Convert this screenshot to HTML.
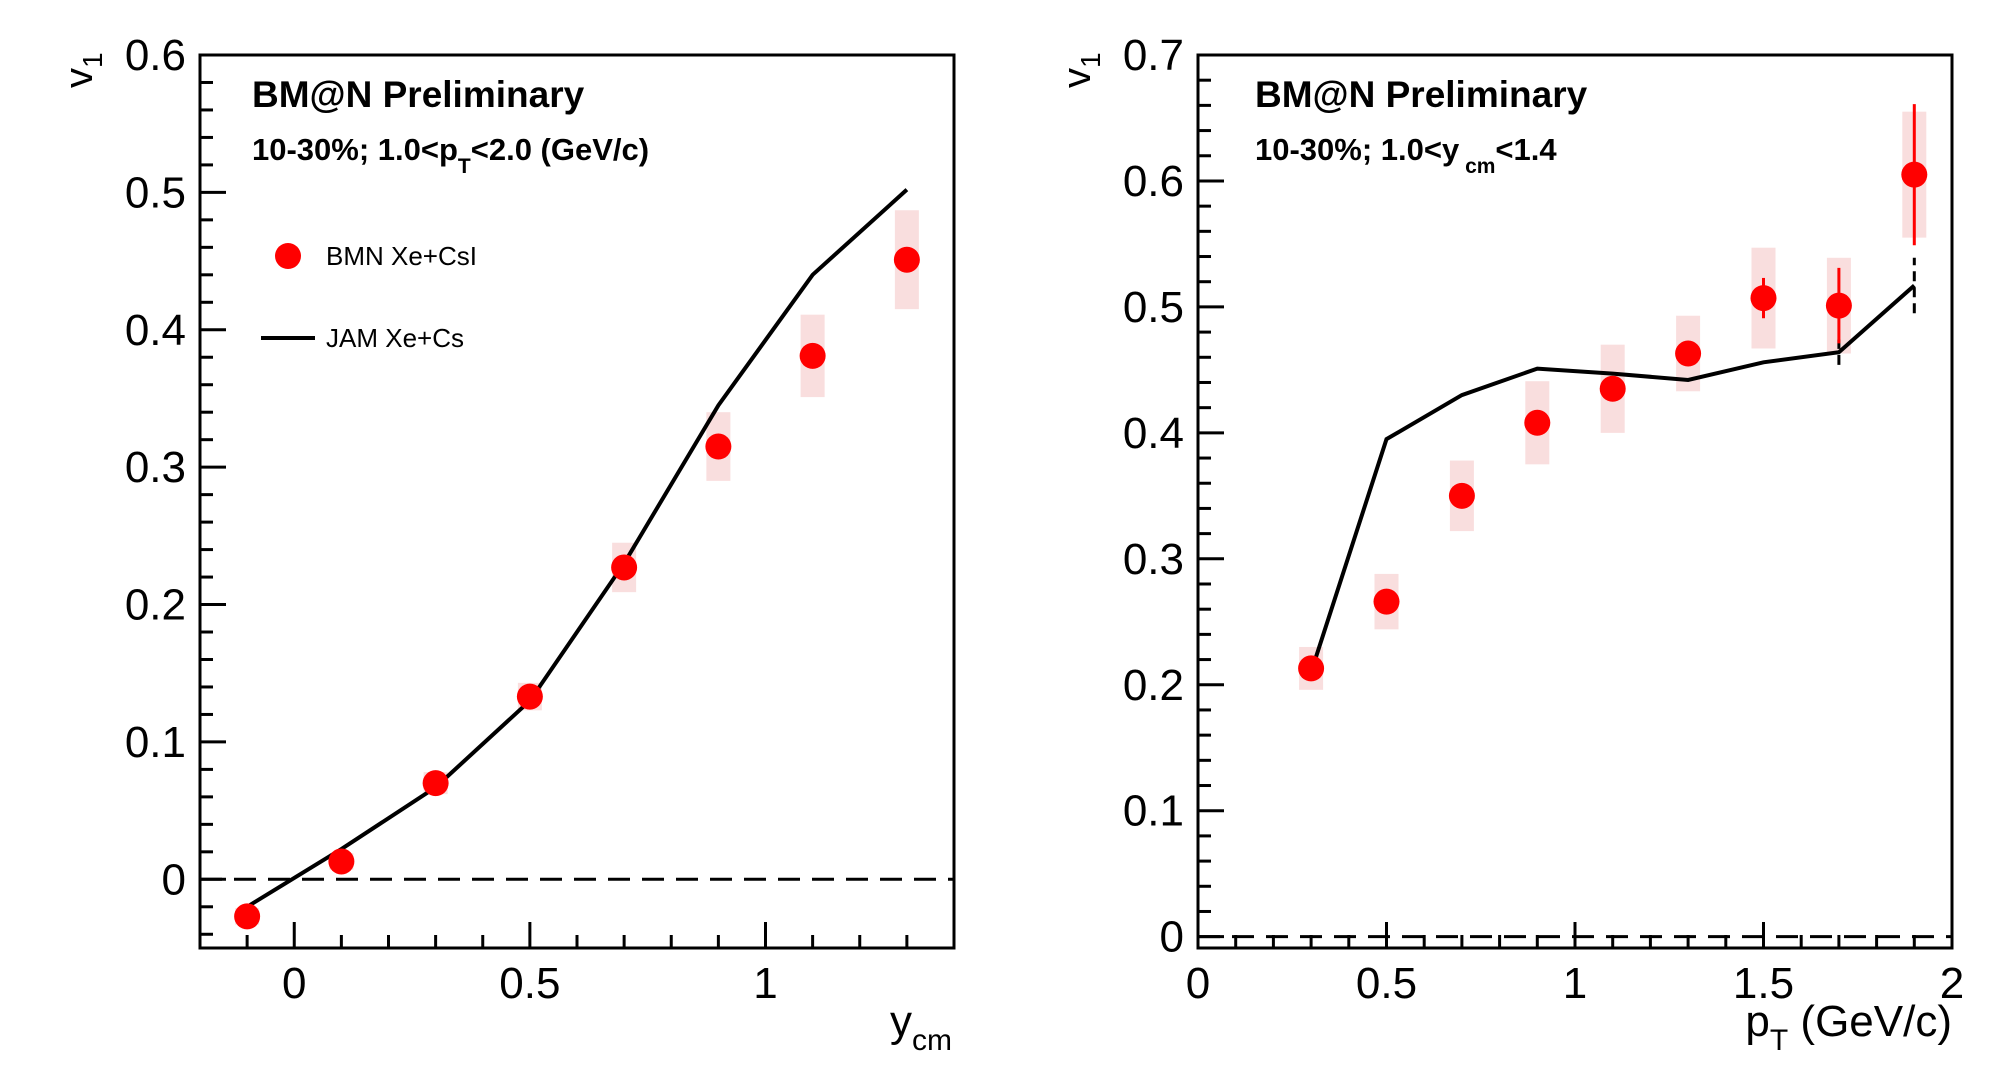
<!DOCTYPE html>
<html><head><meta charset="utf-8"><style>
html,body{margin:0;padding:0;background:#fff;}
svg{display:block;font-family:"Liberation Sans",Arial,sans-serif;}
</style></head><body>
<svg id="svg" width="1996" height="1072" viewBox="0 0 1996 1072" xmlns="http://www.w3.org/2000/svg">
<rect width="1996" height="1072" fill="#fff"/>
</svg>
<script>
// Left panel data
const leftX = [-0.1, 0.1, 0.3, 0.5, 0.7, 0.9, 1.1, 1.3];
const leftV1 = [-0.027, 0.013, 0.070, 0.133, 0.227, 0.315, 0.381, 0.451];
const leftSys = [0.006, 0.006, 0.008, 0.010, 0.018, 0.025, 0.030, 0.036];
const leftJamX = [-0.1, 0.1, 0.3, 0.5, 0.7, 0.9, 1.1, 1.3];
const leftJam = [-0.02, 0.022, 0.067, 0.130, 0.230, 0.345, 0.440, 0.502];
const leftYTicks = [0, 0.1, 0.2, 0.3, 0.4, 0.5, 0.6];
const leftXTicks = [0, 0.5, 1];
// Right panel data
const rightX = [0.3, 0.5, 0.7, 0.9, 1.1, 1.3, 1.5, 1.7, 1.9];
const rightV1 = [0.213, 0.266, 0.350, 0.408, 0.435, 0.463, 0.507, 0.501, 0.605];
const rightSys = [0.017, 0.022, 0.028, 0.033, 0.035, 0.030, 0.040, 0.038, 0.050];
const rightStat = [0.004, 0.005, 0.006, 0.006, 0.007, 0.008, 0.016, 0.030, 0.056];
const rightJamX = [0.3, 0.5, 0.7, 0.9, 1.1, 1.3, 1.5, 1.7, 1.9];
const rightJam = [0.210, 0.395, 0.430, 0.451, 0.447, 0.442, 0.456, 0.464, 0.517];
const rightJamErr = [0, 0, 0, 0, 0, 0, 0, 0.010, 0.022];
const rightYTicks = [0, 0.1, 0.2, 0.3, 0.4, 0.5, 0.6, 0.7];
const rightXTicks = [0, 0.5, 1, 1.5, 2];

const NS = "http://www.w3.org/2000/svg";
const svg = document.getElementById('svg');
function mk(tag, attrs, parent, text){
  const e = document.createElementNS(NS, tag);
  for (const k in attrs) e.setAttribute(k, attrs[k]);
  if (text !== undefined) e.textContent = text;
  (parent||svg).appendChild(e);
  return e;
}
function fmt(v){ return String(Math.round(v*10)/10); }

function panel(o){
  const g = mk('g', {});
  
  
  const L=o.L,R=o.R,T=o.T,B=o.B;
  const sx = v => L + (v-o.xmin)/(o.xmax-o.xmin)*(R-L);
  const sy = v => B - (v-o.ymin)/(o.ymax-o.ymin)*(B-T);
  const ytg = mk('g', {stroke:'#000','stroke-width':3}, g);
  
  
  for (let k=Math.ceil(o.ymin/0.02-1e-6); k*0.02<=o.ymax+1e-6; k++){
    const v=k*0.02, y=sy(v);
    const major = Math.abs(v*10-Math.round(v*10))<1e-6;
    mk('line',{x1:L,x2:L+(major?26:13),y1:y,y2:y},ytg);
  }
  const xtg = mk('g', {stroke:'#000','stroke-width':3}, g);
  
  
  for (let k=Math.ceil(o.xmin/0.1-1e-6); k*0.1<=o.xmax+1e-6; k++){
    const v=k*0.1, x=sx(v);
    const major = Math.abs(v*2-Math.round(v*2))<1e-6;
    mk('line',{x1:x,x2:x,y1:B,y2:B-(major?26:13)},xtg);
  }
  o.yTicks.forEach(v=>{
    const t = mk('text',{x:L-14,y:sy(v)+15,'font-size':44,'text-anchor':'end'},g,fmt(v));
    
    
  });
  o.xTicks.forEach(v=>{
    const t = mk('text',{x:sx(v),y:B+50,'font-size':44,'text-anchor':'middle'},g,fmt(v));
    
    
  });
  const z = mk('line',{x1:L,x2:R,y1:sy(0),y2:sy(0),stroke:'#000','stroke-width':3,'stroke-dasharray':'22,12'},g);
  
  
  o.x.forEach((xv,i)=>{
    const r = mk('rect',{x:sx(xv)-12,y:sy(o.v[i]+o.sys[i]),width:24,height:sy(o.v[i]-o.sys[i])-sy(o.v[i]+o.sys[i]),fill:'#f9dede'},g);
    
    
  });
  if (o.jamErr) o.jamX.forEach((xv,i)=>{
    if(!o.jamErr[i]) return;
    const l = mk('line',{x1:sx(xv),x2:sx(xv),y1:sy(o.jam[i]-o.jamErr[i]),y2:sy(o.jam[i]+o.jamErr[i]),stroke:'#000','stroke-width':3,'stroke-dasharray':'10,6'},g);
    
    
  });
  const pts = o.jamX.map((xv,i)=>sx(xv)+','+sy(o.jam[i])).join(' ');
  const pl = mk('polyline',{points:pts,fill:'none',stroke:'#000','stroke-width':4},g);
  
  
  o.x.forEach((xv,i)=>{
    if (o.stat){
      const l = mk('line',{x1:sx(xv),x2:sx(xv),y1:sy(o.v[i]-o.stat[i]),y2:sy(o.v[i]+o.stat[i]),stroke:'#f00','stroke-width':3},g);
      
      
    }
    const c = mk('circle',{cx:sx(xv),cy:sy(o.v[i]),r:13,fill:'#f00'},g);
    
    
  });
  const f = mk('rect',{x:L,y:T,width:R-L,height:B-T,fill:'none',stroke:'#000','stroke-width':3},g);
  
  
  return g;
}

panel({name:'left-panel',L:200,R:954,T:55,B:948,xmin:-0.2,xmax:1.4,ymin:-0.05,ymax:0.6,
  x:leftX,v:leftV1,sys:leftSys,jamX:leftJamX,jam:leftJam,yTicks:leftYTicks,xTicks:leftXTicks});
panel({name:'right-panel',L:1198,R:1952,T:55,B:948,xmin:0,xmax:2,ymin:-0.009,ymax:0.7,
  x:rightX,v:rightV1,sys:rightSys,stat:rightStat,jamX:rightJamX,jam:rightJam,jamErr:rightJamErr,yTicks:rightYTicks,xTicks:rightXTicks});
</script>
<script>
(function(){
const NS="http://www.w3.org/2000/svg", s=document.getElementById('svg');
const g=document.createElementNS(NS,'g');
g.innerHTML=`
<text transform="translate(92,88) rotate(-90)" font-size="40">v<tspan font-size="28" dy="10">1</tspan></text>
<text transform="translate(1090,88) rotate(-90)" font-size="40">v<tspan font-size="28" dy="10">1</tspan></text>
<text x="890" y="1036" font-size="44">y<tspan font-size="30" dy="14">cm</tspan></text>
<text x="1952" y="1036" font-size="44" text-anchor="end">p<tspan font-size="30" dy="14">T</tspan><tspan dy="-14"> (GeV/c)</tspan></text>
<text x="252" y="107" font-size="37" font-weight="bold">BM@N Preliminary</text>
<text x="252" y="160" font-size="31" font-weight="bold">10-30%; 1.0&lt;p<tspan font-size="21" dy="13">T</tspan><tspan dy="-13">&lt;2.0 (GeV/c)</tspan></text>
<text x="1255" y="107" font-size="37" font-weight="bold">BM@N Preliminary</text>
<text x="1255" y="160" font-size="31" font-weight="bold">10-30%; 1.0&lt;y<tspan font-size="21" dy="13"> cm</tspan><tspan dy="-13">&lt;1.4</tspan></text>
<g>
<circle cx="288" cy="256" r="13" fill="#f00"/>
<text x="326" y="265" font-size="26">BMN Xe+CsI</text>
<line x1="261" x2="315" y1="338" y2="338" stroke="#000" stroke-width="4"/>
<text x="326" y="347" font-size="26">JAM Xe+Cs</text>
</g>`;
s.appendChild(g);
})();
</script>
</body></html>
